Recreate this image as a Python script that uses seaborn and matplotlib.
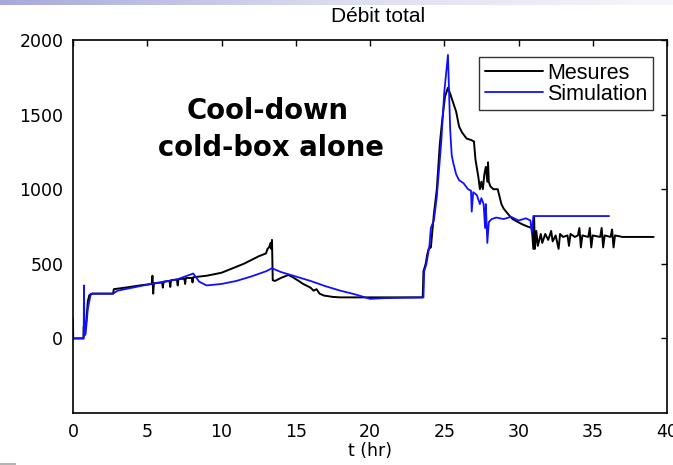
import matplotlib
matplotlib.use("Agg")
import matplotlib.pyplot as plt
from matplotlib.patches import Rectangle
from matplotlib.colors import LinearSegmentedColormap
import numpy as np
import pandas as pd
import seaborn as sns

# Measured total flow (black) and simulated total flow (blue), time in hours
mesures_t = [0.0, 0.7, 0.72, 0.8, 0.9, 1.0, 1.1, 1.3, 2.7, 2.75, 3.5, 4.5, 5.3, 5.35, 5.4,
             5.45, 6.0, 6.05, 6.1, 6.5, 6.55, 6.6, 7.0, 7.05, 7.1, 7.5, 7.55, 7.6, 8.0,
             8.05, 8.1, 9.0, 10.0, 11.0, 11.5, 12.0, 12.5, 13.0, 13.1, 13.2, 13.3, 13.35,
             13.4, 13.45, 13.6, 14.0, 14.5, 14.8, 15.2, 15.5, 15.8, 16.0, 16.2, 16.4,
             16.6, 16.9, 17.5, 18.0, 20.0, 23.55, 23.6, 23.75, 23.85, 23.95, 24.1, 24.3,
             24.5, 24.7, 24.85, 25.05, 25.25, 25.4, 25.6, 25.8, 26.0, 26.2, 26.5, 26.8,
             27.0, 27.1, 27.3, 27.4, 27.5, 27.6, 27.7, 27.8, 27.9, 27.95, 28.0, 28.1,
             28.3, 28.6, 28.85, 29.0, 29.3, 29.6, 30.2, 30.6, 30.9, 31.0, 31.05, 31.1,
             31.2, 31.3, 31.5, 31.6, 31.8, 32.0, 32.2, 32.3, 32.5, 32.7, 32.8, 33.0,
             33.3, 33.4, 33.5, 33.8, 34.0, 34.1, 34.2, 34.3, 34.7, 34.8, 34.9, 35.0,
             35.5, 35.6, 35.7, 35.8, 36.2, 36.3, 36.4, 36.5, 37.0, 39.1]
mesures_q = [0, 0, 80, 60, 120, 250, 290, 300, 300, 330, 340, 355, 365, 420, 300,
             370, 375, 340, 380, 385, 345, 390, 395, 355, 398, 400, 365, 405, 405,
             375, 410, 420, 440, 480, 500, 525, 550, 570, 600, 610, 640, 600,
             660, 390, 385, 405, 425, 410, 385, 365, 350, 340, 320, 330,
             300, 287, 278, 275, 275, 275, 450, 500, 560, 600, 610, 830,
             1000, 1300, 1450, 1620, 1680, 1640, 1580, 1520, 1420, 1380, 1340, 1330,
             1320, 1200, 1080, 1000, 1050, 1000, 1100, 1150, 1050, 1180, 1050, 1020,
             1000, 1000, 900, 870, 833, 800, 767, 750, 740, 600, 820, 600,
             720, 620, 700, 640, 700, 660, 720, 650, 690, 600, 700, 680,
             690, 620, 700, 680, 690, 740, 610, 690, 680, 740, 610, 690,
             680, 740, 610, 690, 680, 730, 610, 690, 680, 680]

simulation_t = [0.0, 0.02, 0.72, 0.74, 0.78, 0.85, 1.0, 1.2, 2.7, 3.0, 5.0, 7.0, 8.1,
                8.5, 9.0, 10.0, 11.0, 12.0, 13.0, 13.4, 14.0, 15.0, 16.0, 17.0, 18.0,
                19.0, 20.0, 21.0, 23.6, 23.65, 23.8, 24.0, 24.1, 24.3, 24.5, 24.8,
                25.0, 25.25, 25.4, 25.5, 25.6, 25.8, 26.0, 26.3, 26.6, 26.8, 26.85,
                26.95, 27.2, 27.4, 27.5, 27.65, 27.75, 27.8, 27.9, 28.0, 28.2, 28.5,
                29.0, 29.5, 30.0, 30.5, 30.8, 30.9, 31.0, 36.1]
simulation_q = [133, 0, 0, 355, 20, 30, 200, 300, 300, 320, 360, 395, 435,
                380, 355, 365, 385, 415, 450, 470, 445, 415, 385, 350, 320,
                295, 265, 270, 275, 450, 500, 620, 740, 790, 950, 1320,
                1650, 1900, 1400, 1230, 1180, 1100, 1060, 1040, 1000, 990, 850,
                980, 960, 900, 940, 900, 740, 900, 640, 780, 800, 810,
                800, 815, 790, 805, 790, 707, 820, 820]

y_ticks = [0, 500, 1000, 1500, 2000]
x_ticks = [0, 5, 10, 15, 20, 25, 30, 35, 40]

sns.set_style("white")
plt.rcParams["font.family"] = ["DejaVu Sans"]
plt.rcParams["text.color"] = "black"
plt.rcParams["axes.labelcolor"] = "black"
plt.rcParams["xtick.color"] = "black"
plt.rcParams["ytick.color"] = "black"

fig = plt.figure(figsize=(6.73, 4.65), dpi=100)
fig.patch.set_facecolor("white")

# slide header strip with a soft lavender gradient
band = fig.add_axes([0, 1 - 5 / 465, 1, 5 / 465])
grad = np.linspace(0, 1, 256)[None, :]
band_cmap = LinearSegmentedColormap.from_list("band", ["#a6a9da", "#dcdcf0", "#f7f7fb"])
band.imshow(grad, aspect="auto", cmap=band_cmap, extent=[0, 1, 0, 1])
band.set_axis_off()
fig.patches.append(Rectangle((0, 0), 16 / 673, 2 / 465, transform=fig.transFigure,
                             facecolor="#b4b4b4", edgecolor="none"))

ax = fig.add_axes([73 / 673, 52 / 465, 594 / 673, 373 / 465])

df_m = pd.DataFrame({"t": mesures_t, "q": mesures_q})
df_s = pd.DataFrame({"t": simulation_t, "q": simulation_q})
sns.lineplot(data=df_m, x="t", y="q", ax=ax, color="black", linewidth=1.4,
             estimator=None, sort=False, label="Mesures")
sns.lineplot(data=df_s, x="t", y="q", ax=ax, color="#1010ff", linewidth=1.3,
             estimator=None, sort=False, label="Simulation")

ax.set_xlim(0, 40)
ax.set_ylim(-500, 2000)
ax.set_xticks(x_ticks)
ax.set_yticks(y_ticks)
ax.set_xticklabels([str(v) for v in x_ticks])
ax.set_yticklabels([str(v) for v in y_ticks])
ax.tick_params(direction="in", length=4, width=1.0, top=True, right=True,
               labelsize=12.5, pad=7, colors="black")
for s in ax.spines.values():
    s.set_visible(True)
    s.set_linewidth(1.2)
    s.set_color("black")

ax.set_xlabel("t (hr)", fontsize=12.5, labelpad=1, color="black")
ax.set_ylabel("")
ax.set_title("Débit total", fontsize=15, family="Liberation Sans", pad=13, x=0.513,
             color="black")

ax.text(13.1, 1473, "Cool-down", ha="center", va="baseline", fontsize=19.8,
        fontweight="bold", color="black")
ax.text(13.3, 1220, "cold-box alone", ha="center", va="baseline", fontsize=19.8,
        fontweight="bold", color="black")

leg = ax.legend(loc="upper right", bbox_to_anchor=(0.976, 0.954), borderaxespad=0,
                frameon=True, fancybox=False, edgecolor="black",
                prop={"family": "Liberation Sans", "size": 15.5},
                handlelength=2.7, handletextpad=0.2, labelspacing=0.0,
                borderpad=0.25)
leg.get_frame().set_linewidth(1.0)
for t in leg.get_texts():
    t.set_color("black")

fig.savefig("out.png", dpi=100)
